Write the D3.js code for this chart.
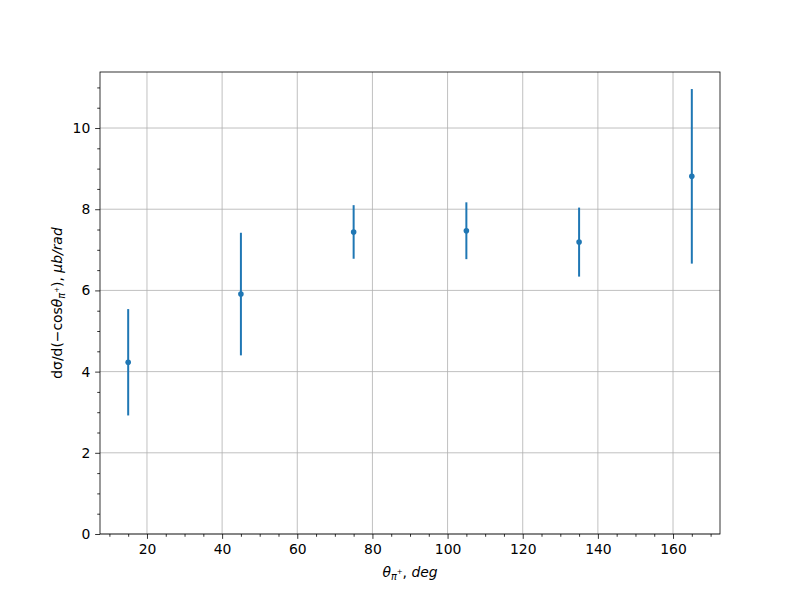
<!DOCTYPE html>
<html>
<head>
<meta charset="utf-8">
<script src="https://cdn.jsdelivr.net/npm/d3@7"></script>
<style>
body { margin: 0; background: #fff; }
svg text { font-family: "DejaVu Sans", sans-serif; }
</style>
</head>
<body>
<svg id="chart" width="800" height="600"></svg>
<script>
const angles = [15, 45, 75, 105, 135, 165];
const values = [4.23, 5.91, 7.44, 7.47, 7.19, 8.81];
const errors = [1.31, 1.51, 0.66, 0.70, 0.85, 2.15];
const xTicks = [20, 40, 60, 80, 100, 120, 140, 160];
const yTicks = [0, 2, 4, 6, 8, 10];

const svg = d3.select("#chart");
const L = 100, R = 720, T = 72, B = 534;
const x = d3.scaleLinear().domain([7.5, 172.5]).range([L, R]);
const y = d3.scaleLinear().domain([0, 11.38]).range([B, T]);

svg.append("rect").attr("width", 800).attr("height", 600).attr("fill", "#fff");

// grid
const grid = svg.append("g");
grid.selectAll("line.gx").data(xTicks).join("line")
  .attr("x1", d => x(d)).attr("x2", d => x(d)).attr("y1", T).attr("y2", B)
  .attr("stroke", "#b0b0b0").attr("stroke-width", 0.8);
grid.selectAll("line.gy").data(yTicks).join("line")
  .attr("y1", d => y(d)).attr("y2", d => y(d)).attr("x1", L).attr("x2", R)
  .attr("stroke", "#b0b0b0").attr("stroke-width", 0.8);

// axes
const xMinor = d3.range(10, 172, 5).filter(v => v % 20 !== 0);
const yMinor = d3.range(0.5, 11.38, 0.5).filter(v => Math.abs(v % 2) > 1e-9);

const xAxis = svg.append("g").attr("transform", `translate(0,${B})`)
  .call(d3.axisBottom(x).tickValues(xTicks).tickSize(4.86).tickPadding(4.9).tickFormat(d3.format("d")));
svg.append("g").attr("transform", `translate(0,${B})`)
  .call(d3.axisBottom(x).tickValues(xMinor).tickSize(2.78).tickFormat(""))
  .select(".domain").remove();
const yAxis = svg.append("g").attr("transform", `translate(${L},0)`)
  .call(d3.axisLeft(y).tickValues(yTicks).tickSize(4.86).tickPadding(4.9).tickFormat(d3.format("d")));
svg.append("g").attr("transform", `translate(${L},0)`)
  .call(d3.axisLeft(y).tickValues(yMinor).tickSize(2.78).tickFormat(""))
  .select(".domain").remove();

svg.selectAll(".tick text").attr("font-size", "13.9px").attr("fill", "#000")
  .style("font-family", "DejaVu Sans");
svg.selectAll(".tick line").attr("stroke", "#000").attr("stroke-width", 0.8);
svg.selectAll(".domain").remove();

// frame
svg.append("rect").attr("x", L).attr("y", T).attr("width", R - L).attr("height", B - T)
  .attr("fill", "none").attr("stroke", "#000").attr("stroke-width", 0.8);

// error bars
const pts = angles.map((a, i) => ({a, v: values[i], e: errors[i]}));
svg.append("g").selectAll("line").data(pts).join("line")
  .attr("x1", d => x(d.a)).attr("x2", d => x(d.a))
  .attr("y1", d => y(d.v - d.e)).attr("y2", d => y(d.v + d.e))
  .attr("stroke", "#1f77b4").attr("stroke-width", 2);
svg.append("g").selectAll("circle").data(pts).join("circle")
  .attr("cx", d => x(d.a)).attr("cy", d => y(d.v)).attr("r", 2.8)
  .attr("fill", "#1f77b4");

// x label
const xl = svg.append("text").attr("x", (L + R) / 2).attr("y", 577)
  .attr("text-anchor", "middle").attr("font-size", "13.9px");
xl.append("tspan").attr("font-style", "italic").text("θ");
xl.append("tspan").attr("font-style", "italic").attr("font-size", "9.7px").attr("dy", 3).text("π");
xl.append("tspan").attr("font-size", "7px").attr("dy", -6).text("+");
xl.append("tspan").attr("dy", 3).text(", ");
xl.append("tspan").attr("font-style", "italic").text("deg");

// y label
const yl = svg.append("text").attr("transform", `translate(62,${(T + B) / 2}) rotate(-90)`)
  .attr("text-anchor", "middle").attr("font-size", "13.9px");
yl.append("tspan").text("dσ/d(−cos");
yl.append("tspan").attr("font-style", "italic").text("θ");
yl.append("tspan").attr("font-style", "italic").attr("font-size", "9.7px").attr("dy", 3).text("π");
yl.append("tspan").attr("font-size", "7px").attr("dy", -6).text("+");
yl.append("tspan").attr("dy", 3).text("), ");
yl.append("tspan").attr("font-style", "italic").text("μb/rad");
</script>
</body>
</html>
